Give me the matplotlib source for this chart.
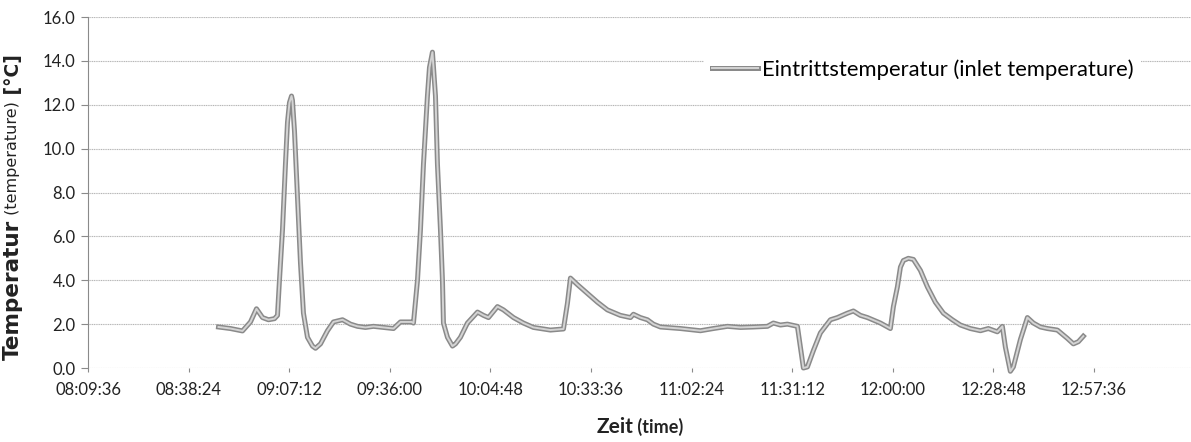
import matplotlib
matplotlib.use('Agg')
import matplotlib.pyplot as plt
import matplotlib.patheffects as pe

# inlet temperature readings
times = ['08:46:58', '08:50:23', '08:53:50', '08:56:07', '08:57:50', '08:59:34',
         '09:01:16', '09:02:59', '09:03:51', '09:04:25', '09:05:17', '09:06:08',
         '09:06:43', '09:07:17', '09:07:52', '09:08:08', '09:08:43', '09:09:35',
         '09:10:26', '09:11:17', '09:12:26', '09:13:52', '09:14:44', '09:16:10',
         '09:18:10', '09:19:53', '09:22:28', '09:24:45', '09:26:45', '09:29:02',
         '09:31:20', '09:34:12', '09:37:04', '09:39:04', '09:42:13', '09:42:47',
         '09:43:56', '09:44:47', '09:45:39', '09:46:47', '09:47:22', '09:48:13',
         '09:48:31', '09:49:05', '09:49:39', '09:50:31', '09:51:05', '09:51:22',
         '09:52:31', '09:53:57', '09:54:49', '09:56:14', '09:58:14', '10:01:07',
         '10:02:49', '10:04:16', '10:06:50', '10:08:33', '10:11:25', '10:14:16',
         '10:17:08', '10:22:00', '10:25:44', '10:26:52', '10:27:44', '10:29:44',
         '10:32:36', '10:35:28', '10:38:19', '10:42:02', '10:44:55', '10:45:46',
         '10:47:46', '10:49:46', '10:51:29', '10:53:30', '10:59:13', '11:04:57',
         '11:08:40', '11:12:41', '11:16:24', '11:20:07', '11:24:08', '11:25:50',
         '11:27:51', '11:29:51', '11:32:43', '11:33:35', '11:34:26', '11:35:35',
         '11:37:18', '11:39:18', '11:42:10', '11:44:10', '11:47:02', '11:48:45',
         '11:50:45', '11:52:46', '11:56:29', '11:59:20', '12:00:12', '12:01:21',
         '12:02:13', '12:03:04', '12:04:29', '12:05:56', '12:07:56', '12:09:56',
         '12:12:13', '12:14:31', '12:17:05', '12:19:23', '12:22:14', '12:25:07',
         '12:27:23', '12:29:58', '12:31:24', '12:32:16', '12:33:41', '12:34:33',
         '12:36:34', '12:38:34', '12:40:17', '12:42:17', '12:44:17', '12:47:09',
         '12:50:01', '12:51:44', '12:53:10', '12:54:35']
temps = [1.87, 1.80, 1.69, 2.10, 2.70, 2.30,
         2.20, 2.25, 2.40, 4.00, 6.30, 9.30,
         11.20, 12.10, 12.40, 12.20, 10.80, 7.80,
         4.80, 2.50, 1.40, 1.00, 0.90, 1.10,
         1.70, 2.10, 2.20, 2.00, 1.90, 1.85,
         1.90, 1.85, 1.80, 2.10, 2.10, 2.05,
         4.00, 6.30, 9.30, 12.40, 13.70, 14.40,
         13.70, 12.40, 9.30, 6.30, 4.00, 2.05,
         1.40, 1.00, 1.10, 1.40, 2.05, 2.55,
         2.40, 2.30, 2.80, 2.65, 2.30, 2.05,
         1.85, 1.73, 1.78, 2.95, 4.10, 3.80,
         3.40, 3.00, 2.65, 2.40, 2.30, 2.45,
         2.30, 2.20, 2.00, 1.87, 1.80, 1.70,
         1.80, 1.90, 1.85, 1.87, 1.90, 2.05,
         1.96, 2.00, 1.90, 0.95, 0.00, 0.05,
         0.80, 1.60, 2.20, 2.30, 2.50, 2.60,
         2.40, 2.30, 2.05, 1.80, 2.80, 3.70,
         4.60, 4.90, 5.00, 4.95, 4.45, 3.70,
         3.00, 2.50, 2.20, 1.96, 1.80, 1.70,
         1.80, 1.65, 1.90, 0.95, -0.15, 0.05,
         1.30, 2.30, 2.05, 1.87, 1.80, 1.73,
         1.35, 1.10, 1.20, 1.45]

tick_labels = ['08:09:36', '08:38:24', '09:07:12', '09:36:00', '10:04:48', '10:33:36',
               '11:02:24', '11:31:12', '12:00:00', '12:28:48', '12:57:36']
x_end = '13:26:24'


def to_min(s):
    h, m, sec = s.split(':')
    return int(h) * 60 + int(m) + int(sec) / 60.0


plt.rcParams['font.family'] = ['Lato', 'DejaVu Sans']

fig = plt.figure(figsize=(11.91, 4.42), dpi=100)
ax = fig.add_axes([0.0739, 0.1674, 0.929, 0.794])

x = [to_min(t) for t in times]
ax.plot(x, temps, color='#d4d4d4', lw=1.4, clip_on=False,
        label='Eintrittstemperatur (inlet temperature)',
        path_effects=[pe.Stroke(linewidth=3.6, foreground='#8a8a8a'), pe.Normal()])

ax.set_xlim(to_min(tick_labels[0]), to_min(x_end))
ax.set_ylim(0, 16)
ax.set_xticks([to_min(t) for t in tick_labels])
ax.set_xticklabels(tick_labels)
ax.set_yticks(range(0, 17, 2))
ax.set_yticklabels(['%.1f' % v for v in range(0, 17, 2)])

ax.grid(axis='y', color='#b5b5b5', lw=0.8, ls=(0, (1, 0.6)))
for s in ['top', 'right', 'bottom']:
    ax.spines[s].set_visible(False)
ax.spines['left'].set_color('#8a8a8a')
ax.tick_params(axis='y', length=5, color='#8a8a8a', labelsize=12, pad=4, labelcolor='#222222')
ax.tick_params(axis='x', length=3, color='#8a8a8a', labelsize=12, pad=7, labelcolor='#222222')

leg = ax.legend(loc='center left', bbox_to_anchor=(0.591, 0.842), bbox_transform=fig.transFigure,
                fontsize=15.8, frameon=True, borderpad=0.35, borderaxespad=0,
                handlelength=2.1, handletextpad=0.2)
leg.get_frame().set_facecolor('white')
leg.get_frame().set_edgecolor('none')
leg.get_frame().set_alpha(1)

# axis titles: bold main word plus a smaller translation
fig.canvas.draw()
r = fig.canvas.get_renderer()

parts_y = [('Temperatur', 'bold', 15.5), (' (temperature)', 'normal', 11.5), (' [°C]', 'bold', 13.5)]
y0 = 360
for txt, wt, sz in parts_y:
    t = fig.text(13 / 1191, 1 - y0 / 442, txt, rotation=90, fontweight=wt, fontsize=sz,
                 family='DejaVu Sans', ha='center', va='bottom', color='#222222')
    bb = t.get_window_extent(r)
    y0 -= bb.height

parts_x = [('Zeit', 'bold', 15), (' (time)', 'bold', 13)]
widths = []
texts = []
for txt, wt, sz in parts_x:
    t = fig.text(0, 1 - 433 / 442, txt, fontweight=wt, fontsize=sz, ha='left', va='baseline',
                 color='#222222')
    texts.append(t)
    widths.append(t.get_window_extent(r).width)
xpos = 640 - sum(widths) / 2
for t, w in zip(texts, widths):
    t.set_x(xpos / 1191)
    xpos += w

fig.savefig('out.png', dpi=100)
